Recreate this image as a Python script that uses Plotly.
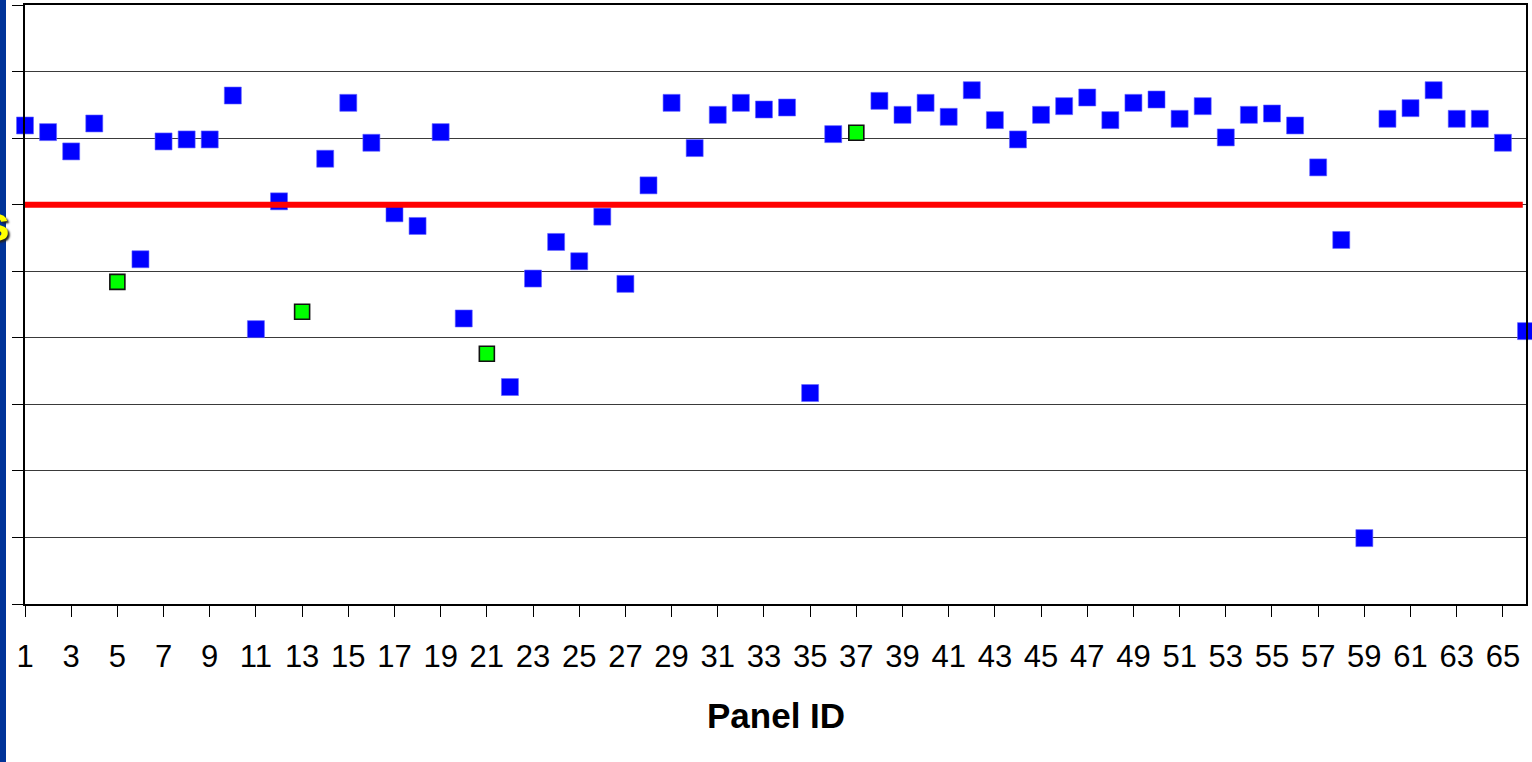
import plotly.graph_objects as go

# ---- data ----
panel_ids = list(range(1, 67))
values = [
    71.9, 70.9, 68.0, 72.2, 48.4, 51.8, 69.5, 69.8, 69.8, 76.4,
    41.3, 60.5, 43.9, 66.9, 75.3, 69.3, 58.7, 56.8, 70.9, 42.9,
    37.6, 32.6, 48.9, 54.4, 51.5, 58.2, 48.1, 62.9, 75.3, 68.5,
    73.5, 75.3, 74.3, 74.6, 31.7, 70.6, 70.8, 75.6, 73.5, 75.3,
    73.2, 77.2, 72.7, 69.8, 73.5, 74.8, 76.1, 72.7, 75.3, 75.8,
    72.9, 74.8, 70.1, 73.5, 73.7, 71.9, 65.6, 54.7, 9.9, 72.9,
    74.5, 77.2, 72.9, 72.9, 69.3, 41.0,
]
green_ids = [5, 13, 21, 37]
threshold = 60
x_tick_vals = panel_ids[::2]
x_tick_labels = [str(v) for v in x_tick_vals]
y_range = [0, 90]
y_step = 10

blue_x = [p for p in panel_ids if p not in green_ids]
blue_y = [values[p - 1] for p in blue_x]
green_x = [p for p in panel_ids if p in green_ids]
green_y = [values[p - 1] for p in green_x]

W, H = 1532, 762
ML, MR, MT, MB = 25, 6, 5, 158
PW, PH = W - ML - MR, H - MT - MB

fig = go.Figure()
fig.add_trace(go.Scatter(
    x=blue_x, y=blue_y, mode="markers", cliponaxis=False,
    marker=dict(symbol="square", size=17, color="#0000FF",
                line=dict(width=0.6, color="#6666FF")),
    showlegend=False,
))
fig.add_trace(go.Scatter(
    x=green_x, y=green_y, mode="markers", cliponaxis=False,
    marker=dict(symbol="square", size=15, color="#00FF00",
                line=dict(width=1.6, color="#111111")),
    showlegend=False,
))
# threshold line (drawn over the markers)
fig.add_shape(type="line", xref="x", yref="y",
              x0=panel_ids[0] - 0.4, x1=panel_ids[-1] - 0.14,
              y0=threshold, y1=threshold,
              line=dict(color="#FF0000", width=6), layer="above")

# dark blue slide strip on the left
fig.add_shape(type="rect", xref="paper", yref="paper",
              x0=-ML / PW - 0.01, x1=(6 - ML) / PW,
              y0=-MB / PH - 0.01, y1=1 + MT / PH + 0.01,
              fillcolor="#003399", line=dict(width=0), layer="above")

# cropped yellow title fragment
fig.add_annotation(text="<b>s</b>", xref="paper", yref="paper",
                   x=(12 - ML) / PW, y=(604 - 224) / PH,
                   xanchor="right", yanchor="middle", showarrow=False,
                   font=dict(family="Liberation Sans", size=50, color="#FFFF00",
                             shadow="2px 2px 2px #222222"))

# x-axis title
fig.add_annotation(text="<b>Panel ID</b>", xref="paper", yref="paper",
                   x=0.5, y=-(715 - 604) / PH, xanchor="center", yanchor="middle",
                   showarrow=False,
                   font=dict(family="Liberation Sans", size=35, color="#000000"))

fig.update_xaxes(
    range=[panel_ids[0], panel_ids[-1]],
    tickmode="array", tickvals=x_tick_vals, ticktext=x_tick_labels,
    ticks="outside", ticklen=11, tickwidth=1, tickcolor="#000000",
    ticklabelstandoff=13,
    tickfont=dict(family="Liberation Sans", size=31, color="#000000"),
    showgrid=False, zeroline=False,
    showline=True, linecolor="#000000", linewidth=1.5, mirror=True,
)
fig.update_yaxes(
    range=y_range, dtick=y_step, tick0=0,
    ticks="outside", ticklen=11, tickwidth=1, tickcolor="#000000",
    showticklabels=False,
    showgrid=True, gridcolor="#3a3a3a", gridwidth=1, zeroline=False,
    showline=True, linecolor="#000000", linewidth=1.5, mirror=True,
)
fig.update_layout(
    width=W, height=H,
    margin=dict(l=ML, r=MR, t=MT, b=MB, autoexpand=False),
    paper_bgcolor="#FFFFFF", plot_bgcolor="#FFFFFF",
    font=dict(family="Liberation Sans"),
)
fig.write_html(
    "out.html",
    config={"displayModeBar": False},
    post_script="document.body.style.margin='0';document.body.style.overflow='hidden';",
)
